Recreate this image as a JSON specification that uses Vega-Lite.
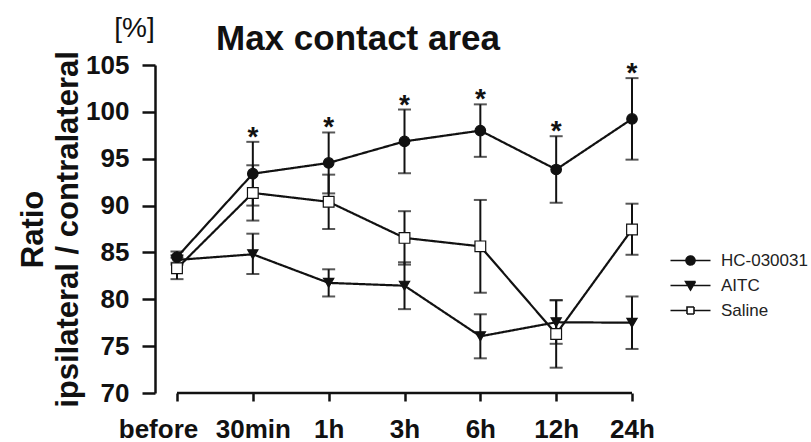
{
  "$schema": "https://vega.github.io/schema/vega-lite/v6.json",
  "autosize": {"type": "none"},
  "width": 499,
  "height": 328,
  "padding": {"left": 155, "top": 65, "right": 157, "bottom": 49},
  "background": "white",
  "config": {
    "font": "Liberation Sans",
    "view": {"stroke": null}
  },
  "title": {
    "text": "Max contact area",
    "fontSize": 35,
    "fontWeight": "bold",
    "color": "#111",
    "anchor": "start",
    "frame": "group",
    "dx": 61,
    "dy": 89,
    "baseline": "alphabetic",
    "offset": 18
  },
  "data": {
    "values": [
      {"t": "before", "group": "HC-030031", "mean": 84.5, "lo": 83.9, "hi": 85.1, "sig": false},
      {"t": "30min", "group": "HC-030031", "mean": 93.4, "lo": 90.0, "hi": 96.8, "sig": true},
      {"t": "1h", "group": "HC-030031", "mean": 94.55, "lo": 91.3, "hi": 97.8, "sig": true},
      {"t": "3h", "group": "HC-030031", "mean": 96.85, "lo": 93.45, "hi": 100.25, "sig": true},
      {"t": "6h", "group": "HC-030031", "mean": 98.0, "lo": 95.2, "hi": 100.8, "sig": true},
      {"t": "12h", "group": "HC-030031", "mean": 93.85, "lo": 90.3, "hi": 97.4, "sig": true},
      {"t": "24h", "group": "HC-030031", "mean": 99.25, "lo": 94.9, "hi": 103.6, "sig": true},
      {"t": "before", "group": "AITC", "mean": 84.2, "lo": 83.7, "hi": 84.7, "sig": false},
      {"t": "30min", "group": "AITC", "mean": 84.8, "lo": 82.7, "hi": 87.0, "sig": false},
      {"t": "1h", "group": "AITC", "mean": 81.75, "lo": 80.3, "hi": 83.2, "sig": false},
      {"t": "3h", "group": "AITC", "mean": 81.45, "lo": 78.95, "hi": 83.95, "sig": false},
      {"t": "6h", "group": "AITC", "mean": 76.05, "lo": 73.7, "hi": 78.4, "sig": false},
      {"t": "12h", "group": "AITC", "mean": 77.55, "lo": 75.25, "hi": 79.9, "sig": false},
      {"t": "24h", "group": "AITC", "mean": 77.5, "lo": 74.7, "hi": 80.3, "sig": false},
      {"t": "before", "group": "Saline", "mean": 83.3, "lo": 82.15, "hi": 84.45, "sig": false},
      {"t": "30min", "group": "Saline", "mean": 91.35, "lo": 88.4, "hi": 94.3, "sig": false},
      {"t": "1h", "group": "Saline", "mean": 90.4, "lo": 87.5, "hi": 93.3, "sig": false},
      {"t": "3h", "group": "Saline", "mean": 86.55, "lo": 83.7, "hi": 89.4, "sig": false},
      {"t": "6h", "group": "Saline", "mean": 85.65, "lo": 80.7, "hi": 90.6, "sig": false},
      {"t": "12h", "group": "Saline", "mean": 76.3, "lo": 72.7, "hi": 79.9, "sig": false},
      {"t": "24h", "group": "Saline", "mean": 87.45, "lo": 84.75, "hi": 90.2, "sig": false}
    ]
  },
  "encoding": {
    "x": {
      "field": "t",
      "type": "ordinal",
      "scale": {"type": "point", "domain": ["before", "30min", "1h", "3h", "6h", "12h", "24h"], "padding": 0.29},
      "axis": {
        "domain": false,
        "ticks": true,
        "tickSize": 8,
        "tickWidth": 2.5,
        "tickColor": "#111",
        "labelFontSize": 26,
        "labelFontWeight": "bold",
        "labelColor": "#111",
        "labelPadding": 15,
        "labelAngle": 0,
        "labelOffset": {"condition": {"test": "datum.value === 'before'", "value": -19}, "value": 0},
        "title": "[%]",
        "titleAngle": 0,
        "titleFontSize": 28,
        "titleFontWeight": "normal",
        "titleColor": "#111",
        "titleAlign": "center",
        "titleBaseline": "alphabetic",
        "titleX": -21,
        "titleY": -357
      }
    }
  },
  "layer": [
    {
      "mark": {"type": "line", "color": "#111", "strokeWidth": 2.2},
      "encoding": {
        "y": {
          "field": "mean",
          "type": "quantitative",
          "scale": {"domain": [70, 105], "nice": false, "zero": false},
          "axis": {
            "values": [70, 75, 80, 85, 90, 95, 100, 105],
            "grid": false,
            "domain": true,
            "domainWidth": 2.5,
            "domainColor": "#111",
            "tickSize": 13,
            "tickWidth": 2.5,
            "tickColor": "#111",
            "labelFontSize": 26,
            "labelFontWeight": "bold",
            "labelColor": "#111",
            "labelPadding": 13,
            "title": ["Ratio", "ipsilateral / contralateral"],
            "titleFontSize": 31,
            "titleFontWeight": "bold",
            "titleColor": "#111",
            "titleLineHeight": 35,
            "titleAngle": -90,
            "titleAlign": "center",
            "titleBaseline": "alphabetic",
            "titleX": -113,
            "titleY": 164
          }
        },
        "detail": {"field": "group"},
        "strokeDash": {
          "field": "group",
          "type": "nominal",
          "scale": {"domain": ["HC-030031", "AITC", "Saline"], "range": [[1, 0], [1, 0], [1, 0]]},
          "legend": {
            "title": null,
            "orient": "none",
            "legendX": 527,
            "legendY": 187,
            "padding": 0,
            "labelFontSize": 17,
            "labelColor": "#222",
            "labelOffset": 22,
            "rowPadding": 7,
            "symbolSize": 100,
            "symbolType": {"expr": "datum.value === 'HC-030031' ? 'M-4,0H-0.9M0.9,0H4M-0.9,0A0.9,0.9 0 1,0 0.9,0A0.9,0.9 0 1,0 -0.9,0Z' : datum.value === 'AITC' ? 'M-4,0H4M-1,-0.8L1,-0.8L0,0.9Z' : 'M-4,0H-0.7M0.7,0H4M-0.7,-0.7H0.7V0.7H-0.7Z'"},
            "symbolFillColor": {"expr": "datum.value === 'Saline' ? '#ffffff' : '#111111'"},
            "symbolStrokeColor": "#111",
            "symbolStrokeWidth": 1.6,
            "symbolOpacity": 1
          }
        }
      }
    },
    {
      "mark": {"type": "rule", "color": "#111", "strokeWidth": 2},
      "encoding": {
        "y": {"field": "lo", "type": "quantitative"},
        "y2": {"field": "hi"}
      }
    },
    {
      "mark": {"type": "tick", "color": "#111", "size": 13, "thickness": 2},
      "encoding": {"y": {"field": "lo", "type": "quantitative"}}
    },
    {
      "mark": {"type": "tick", "color": "#111", "size": 13, "thickness": 2},
      "encoding": {"y": {"field": "hi", "type": "quantitative"}}
    },
    {
      "mark": {"type": "point", "filled": true, "stroke": "#111", "strokeWidth": 1.2, "opacity": 1},
      "encoding": {
        "y": {"field": "mean", "type": "quantitative"},
        "shape": {
          "field": "group",
          "type": "nominal",
          "scale": {"domain": ["AITC", "HC-030031", "Saline"], "range": ["triangle-down", "circle", "square"]},
          "legend": null
        },
        "fill": {
          "field": "group",
          "type": "nominal",
          "scale": {"domain": ["AITC", "HC-030031", "Saline"], "range": ["#111111", "#111111", "#ffffff"]},
          "legend": null
        },
        "size": {
          "field": "group",
          "type": "nominal",
          "scale": {"domain": ["AITC", "HC-030031", "Saline"], "range": [105, 115, 85]},
          "legend": null
        }
      }
    },
    {
      "transform": [{"filter": "datum.sig"}],
      "mark": {"type": "text", "text": "*", "fontSize": 28, "fontWeight": "bold", "color": "#111", "baseline": "alphabetic", "dy": 4},
      "encoding": {"y": {"field": "hi", "type": "quantitative"}}
    },
    {
      "data": {"values": [{"line": "x-axis"}]},
      "mark": {"type": "rule", "color": "#111", "strokeWidth": 2.5},
      "encoding": {
        "x": {"datum": "before"},
        "x2": {"datum": "24h"},
        "y": {"datum": 70}
      }
    }
  ]
}
